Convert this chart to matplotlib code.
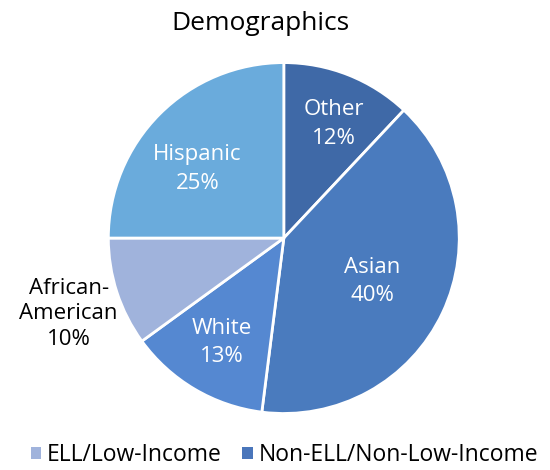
import matplotlib
matplotlib.use("Agg")
import matplotlib.pyplot as plt
import numpy as np
from matplotlib.patches import Patch

plt.rcParams['font.family'] = ['Open Sans', 'DejaVu Sans']

categories = ["Other", "Asian", "White", "African-\nAmerican", "Hispanic"]
values = [12, 40, 13, 10, 25]
colors = ["#3f69a7", "#4a7bbe", "#5588d1", "#a0b3dc", "#6aabdc"]
legend_labels = ["ELL/Low-Income", "Non-ELL/Non-Low-Income"]
legend_colors = ["#a0b3dc", "#4a76bb"]

label_r = [0.71, 0.56, 0.69, 1.30, 0.63]
label_dang = [-2.0, -0.8, 0.0, 1.4, 6.3]
label_color = ["white", "white", "white", "black", "white"]
label_ls = [1.45, 1.45, 1.45, 1.3, 1.45]

fig = plt.figure(figsize=(5.5, 4.7), dpi=100)
ax = fig.add_axes([0.197, 0.120, 0.638, 0.747])
wedges, _ = ax.pie(values, colors=colors, startangle=90, counterclock=False,
                   radius=1, wedgeprops=dict(edgecolor="white", linewidth=2))
ax.set_xlim(-1, 1)
ax.set_ylim(-1, 1)
ax.set_aspect("equal")

for w, name, v, r, da, c, ls in zip(wedges, categories, values, label_r, label_dang,
                                    label_color, label_ls):
    ang = np.deg2rad((w.theta1 + w.theta2) / 2 + da)
    ax.text(r * np.cos(ang), r * np.sin(ang), f"{name}\n{v}%", ha="center", va="center",
            fontsize=16, color=c, linespacing=ls, clip_on=False)

fig.text(0.473, 0.950, "Demographics", ha="center", va="center", fontsize=19)

handles = [Patch(facecolor=c, edgecolor="none") for c in legend_colors]
fig.legend(handles, legend_labels, loc="center", bbox_to_anchor=(0.517, 0.032), ncol=2,
           frameon=False, fontsize=16.5, handlelength=0.45, handleheight=0.45,
           handletextpad=0.25, columnspacing=0.9)

fig.savefig("out.png", dpi=100)
